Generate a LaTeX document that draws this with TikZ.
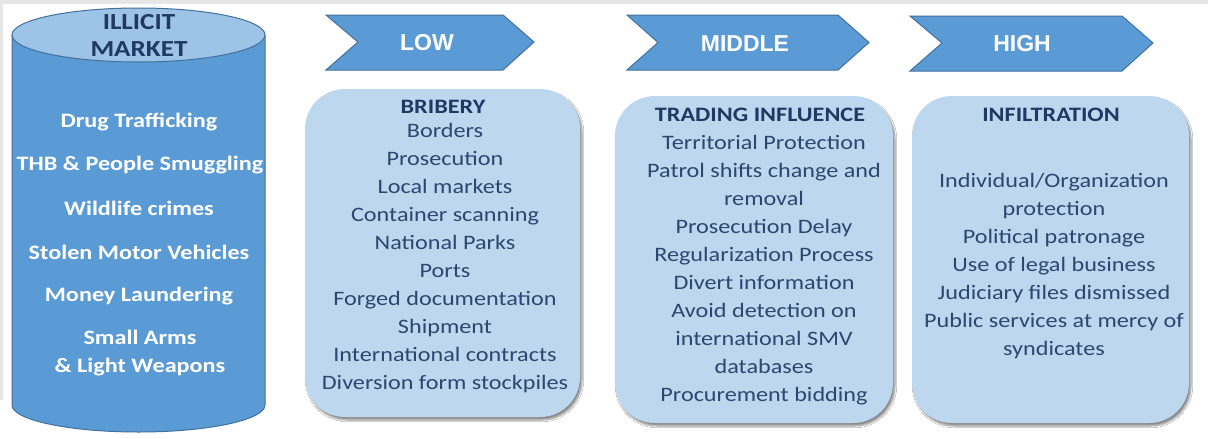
\documentclass[tikz,border=0pt]{standalone}
\usepackage{fontspec}
\usetikzlibrary{shadows.blur}
\newfontfamily\boxfont{Carlito}[FakeStretch=1.18]
\newfontfamily\arrowfont{Liberation Sans}
\definecolor{arrowblue}{HTML}{5B9BD5}
\definecolor{edgeblue}{HTML}{41719C}
\definecolor{cyltop}{HTML}{9DC3E6}
\definecolor{boxblue}{HTML}{BDD7EE}
\definecolor{titlenavy}{HTML}{1F3864}
\definecolor{itemnavy}{HTML}{2C4670}
\definecolor{framegray}{HTML}{E6E6E6}
\tikzset{
  levelarrow/.style={fill=arrowblue,draw=edgeblue,line width=1pt,line join=miter},
  levellabel/.style={font=\arrowfont\bfseries\fontsize{23}{27}\selectfont,text=white},
  actbox/.style={fill=boxblue,rounded corners=40pt,
    blur shadow={shadow xshift=2pt,shadow yshift=-3pt,shadow blur steps=6,shadow opacity=45}},
  acttitle/.style={font=\boxfont\bfseries\fontsize{20.5}{28}\selectfont,text=titlenavy},
  actitems/.style={font=\boxfont\fontsize{20.5}{28}\selectfont,text=itemnavy,align=center,inner sep=0pt},
  crimeitem/.style={font=\boxfont\bfseries\fontsize{20.5}{28}\selectfont,text=white,align=center,inner sep=0pt},
}
\begin{document}
\begin{tikzpicture}[x=1pt,y=-1pt]
\fill[white] (0,0) rectangle (1208,439);
\useasboundingbox (0,0) rectangle (1208,439);
%frame
\fill[framegray] (0,0) rectangle (1208,4);
\fill[framegray] (0,4) rectangle (3,400);

%illicit market cylinder
\filldraw[fill=arrowblue,draw=edgeblue,line width=1pt] (12,35) -- (12,405)
  arc[start angle=180,end angle=360,x radius=126.5pt,y radius=27pt] -- (265,35) -- cycle;
\filldraw[fill=cyltop,draw=edgeblue,line width=1pt] (138.5,35) ellipse [x radius=126.5pt,y radius=27pt];
\node[crimeitem,text=titlenavy,font=\boxfont\bfseries\fontsize{23}{27}\selectfont] (market) at (139,35) {ILLICIT\\MARKET};
\node[crimeitem] (drugs) at (139,122) {Drug Trafficking};
\node[crimeitem] (thb) at (140,165) {THB \& People Smuggling};
\node[crimeitem] (wildlife) at (139,208) {Wildlife crimes};
\node[crimeitem] (smv) at (139,252) {Stolen Motor Vehicles};
\node[crimeitem] (money) at (139,296) {Money Laundering};
\node[crimeitem] (salw) at (140,353) {Small Arms\\\& Light Weapons};

%level arrows
\filldraw[levelarrow] (326,15) -- (503,15) -- (534,42) -- (503,70) -- (326,70) -- (358,42) -- cycle;
\filldraw[levelarrow] (627,15) -- (838,15) -- (869,42.5) -- (838,70) -- (627,70) -- (658,42.5) -- cycle;
\filldraw[levelarrow] (910,16) -- (1122,16) -- (1153,43) -- (1122,71) -- (910,71) -- (942,43) -- cycle;
\node[levellabel] (low) at (427,43) {LOW};
\node[levellabel] (middle) at (745,44) {MIDDLE};
\node[levellabel] (high) at (1022,44) {HIGH};

%corruption boxes
\fill[actbox] (305,89) rectangle (580,417);
\fill[actbox] (615,96) rectangle (893,423);
\fill[actbox] (912,96) rectangle (1189,423);

\node[acttitle] (bribery) at (443,107) {BRIBERY};
\node[actitems] (briberylist) at (445,258.5) {Borders\\Prosecution\\Local markets\\Container scanning\\National Parks\\Ports\\Forged documentation\\Shipment\\International contracts\\Diversion form stockpiles};

\node[acttitle] (trading) at (760,115) {TRADING INFLUENCE};
\node[actitems] (tradinglist) at (764,270) {Territorial Protection\\Patrol shifts change and\\removal\\Prosecution Delay\\Regularization Process\\Divert information\\Avoid detection on\\international SMV\\databases\\Procurement bidding};

\node[acttitle] (infiltration) at (1051,115) {INFILTRATION};
\node[actitems] (infiltrationlist) at (1054,266) {Individual/Organization\\protection\\Political patronage\\Use of legal business\\Judiciary files dismissed\\Public services at mercy of\\syndicates};
\end{tikzpicture}
\end{document}
